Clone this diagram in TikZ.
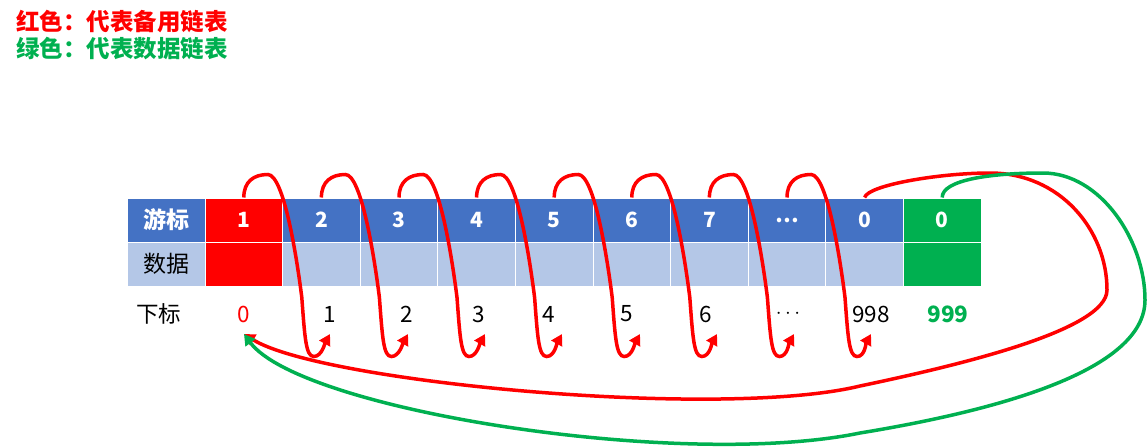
\documentclass[tikz,border=0pt]{standalone}
\usepackage{fontspec}
\setmainfont{Noto Sans CJK SC}
\usetikzlibrary{arrows.meta}
\definecolor{ublue}{HTML}{4472C4}
\definecolor{ulight}{HTML}{B4C7E7}
\definecolor{ugreen}{HTML}{00B050}
\tikzset{%
    cel/.style={rectangle, draw=white, line width=1pt, minimum width=77.6pt, minimum height=44pt, inner sep=0pt, fill=ublue, text=white, font=\fontsize{21}{21}\selectfont\bfseries},
    dat/.style={cel, fill=ulight, text=black, font=\fontsize{23}{23}\selectfont},
    idx/.style={inner sep=0pt, font=\fontsize{22.5}{22.5}\selectfont},
    leg/.style={anchor=west, inner sep=0pt, font=\fontsize{23.5}{23.5}\selectfont\bfseries},
    rla/.style={line width=3.5pt, red, -{Triangle[length=11pt,width=12pt]}},
    gra/.style={line width=3.5pt, ugreen, -{Triangle[length=11pt,width=12pt]}},
}
\begin{document}
\begin{tikzpicture}[x=1pt,y=-1pt]
    \useasboundingbox (0,0) rectangle (1148,447);
    % legend
    \node [leg,text=red] (lr) at (16,22) {红色：代表备用链表};
    \node [leg,text=ugreen] (lg) at (16,49) {绿色：代表数据链表};
    % cursor row
    \node [cel,font=\fontsize{23}{23}\selectfont\bfseries] (h1) at (166.2,220) {游标};
    \node [cel,fill=red] (c1) at (243.8,220) {1};
    \node [cel] (c2) at (321.4,220) {2};
    \node [cel] (c3) at (399,220) {3};
    \node [cel] (c4) at (476.6,220) {4};
    \node [cel] (c5) at (554.2,220) {5};
    \node [cel] (c6) at (631.8,220) {6};
    \node [cel] (c7) at (709.4,220) {7};
    \node [cel] (c8) at (787,220) {…};
    \node [cel] (c9) at (864.6,220) {0};
    \node [cel,fill=ugreen] (c10) at (942.2,220) {0};
    % data row
    \node [dat] (h2) at (166.2,264) {数据};
    \node [dat,fill=red] (d1) at (243.8,264) {};
    \node [dat] (d2) at (321.4,264) {};
    \node [dat] (d3) at (399,264) {};
    \node [dat] (d4) at (476.6,264) {};
    \node [dat] (d5) at (554.2,264) {};
    \node [dat] (d6) at (631.8,264) {};
    \node [dat] (d7) at (709.4,264) {};
    \node [dat] (d8) at (787,264) {};
    \node [dat] (d9) at (864.6,264) {};
    \node [dat,fill=ugreen] (d10) at (942.2,264) {};
    % index row
    \node [idx] (h3) at (158.5,314) {下标};
    \node [idx,text=red] (i0) at (244,314) {0};
    \node [idx] (i1) at (330,314) {1};
    \node [idx] (i2) at (407,314) {2};
    \node [idx] (i3) at (479,314) {3};
    \node [idx] (i4) at (549,314) {4};
    \node [idx] (i5) at (627,314) {5};
    \node [idx] (i6) at (706,314) {6};
    \node [idx] (i7) at (788,314) {$\cdots$};
    \node [idx] (i8) at (871,314) {998};
    \node [idx,text=ugreen,font=\fontsize{22.5}{22.5}\selectfont\bfseries] (i9) at (948,314) {999};
    % arrow tips beside the index labels
    \coordinate (t1) at (330,334);
    \coordinate (t2) at (408,334);
    \coordinate (t3) at (485,334);
    \coordinate (t4) at (562,334);
    \coordinate (t5) at (640,334);
    \coordinate (t6) at (717,334);
    \coordinate (t7) at (794,334);
    \coordinate (t8) at (871,334);
    % spare list
    \draw [rla] (c1.north) .. controls +(0,-16) and +(-14,0) .. ++(24,-23) .. controls +(16,0) and +(-5,-40) .. ++(34,123) .. controls +(3,40) and +(-8,0) .. ++(12,59) .. controls +(8,0) and +(-5,9) .. (t1);
    \draw [rla] (c2.north) .. controls +(0,-16) and +(-14,0) .. ++(24,-23) .. controls +(16,0) and +(-5,-40) .. ++(34,123) .. controls +(3,40) and +(-8,0) .. ++(12,59) .. controls +(8,0) and +(-5,9) .. (t2);
    \draw [rla] (c3.north) .. controls +(0,-16) and +(-14,0) .. ++(24,-23) .. controls +(16,0) and +(-5,-40) .. ++(34,123) .. controls +(3,40) and +(-8,0) .. ++(12,59) .. controls +(8,0) and +(-5,9) .. (t3);
    \draw [rla] (c4.north) .. controls +(0,-16) and +(-14,0) .. ++(24,-23) .. controls +(16,0) and +(-5,-40) .. ++(34,123) .. controls +(3,40) and +(-8,0) .. ++(12,59) .. controls +(8,0) and +(-5,9) .. (t4);
    \draw [rla] (c5.north) .. controls +(0,-16) and +(-14,0) .. ++(24,-23) .. controls +(16,0) and +(-5,-40) .. ++(34,123) .. controls +(3,40) and +(-8,0) .. ++(12,59) .. controls +(8,0) and +(-5,9) .. (t5);
    \draw [rla] (c6.north) .. controls +(0,-16) and +(-14,0) .. ++(24,-23) .. controls +(16,0) and +(-5,-40) .. ++(34,123) .. controls +(3,40) and +(-8,0) .. ++(12,59) .. controls +(8,0) and +(-5,9) .. (t6);
    \draw [rla] (c7.north) .. controls +(0,-16) and +(-14,0) .. ++(24,-23) .. controls +(16,0) and +(-5,-40) .. ++(34,123) .. controls +(3,40) and +(-8,0) .. ++(12,59) .. controls +(8,0) and +(-5,9) .. (t7);
    \draw [rla] (c8.north) .. controls +(0,-16) and +(-14,0) .. ++(24,-23) .. controls +(16,0) and +(-5,-40) .. ++(34,123) .. controls +(3,40) and +(-8,0) .. ++(12,59) .. controls +(8,0) and +(-5,9) .. (t8);
    \draw [rla] (c9.north) .. controls (868,185) and (940,173) .. (990,173) .. controls (1060,173) and (1107,230) .. (1107,290) .. controls (1107,330) and (960,365) .. (860,386) .. controls (720,420) and (320,382) .. ([yshift=-20pt]i0.center);
    % data list
    \draw [gra] (c10.north) .. controls (942,180) and (990,173) .. (1043,173) .. controls (1100,173) and (1145,240) .. (1145,300) .. controls (1145,370) and (1000,410) .. (860,433) .. controls (680,470) and (300,410) .. ([yshift=-20pt]i0.center);
\end{tikzpicture}
\end{document}
